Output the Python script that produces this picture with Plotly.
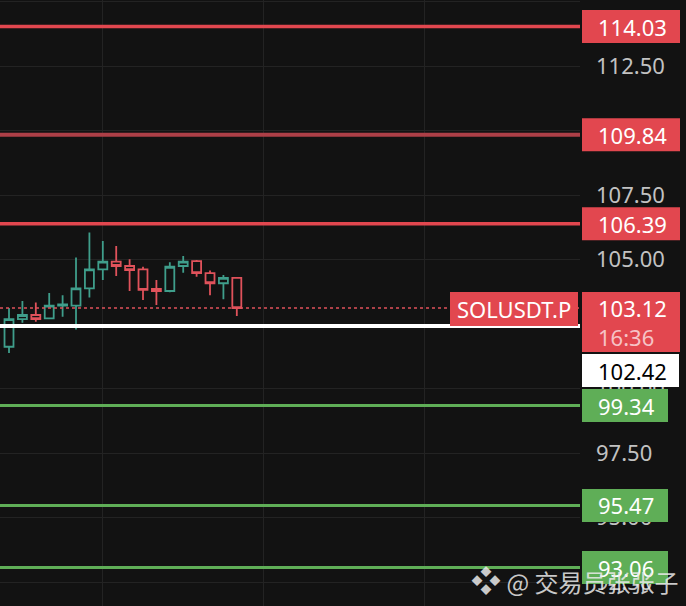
import plotly.graph_objects as go

# ---- data ----
candle_index = list(range(18))
opens  = [101.62, 102.69, 102.85, 102.72, 103.21, 103.21, 103.88, 104.62, 104.92, 104.75,
          104.62, 103.86, 103.78, 104.75, 104.94, 104.47, 104.08, 104.29]
highs  = [103.12, 103.39, 103.33, 103.70, 103.62, 105.08, 106.05, 105.72, 105.52, 105.01,
          104.72, 104.21, 104.89, 105.14, 104.98, 104.57, 104.40, 104.29]
lows   = [101.38, 102.55, 102.59, 102.69, 102.78, 102.29, 103.53, 104.21, 104.36, 103.78,
          103.43, 103.24, 103.73, 104.49, 104.33, 103.62, 103.46, 102.81]
closes = [102.69, 102.85, 102.69, 103.21, 103.26, 103.88, 104.62, 104.92, 104.75, 104.59,
          103.82, 103.78, 104.72, 104.92, 104.47, 104.08, 104.29, 103.12]

resistance_levels = [114.03, 109.84, 106.39]
support_levels = [99.34, 95.47, 93.06]
entry_level = 102.42
last_price = 103.12
countdown = "16:36"
symbol = "SOLUSDT.P"
watermark_logo = "❖"
watermark_text = "@ 交易员张张子"

# ---- styles ----
BG = "#121212"
GRID = "#232323"
UP = "#3f9e8b"
DOWN = "#e0525b"
RED = "#e2474f"
RED_DARK = "#ad3f47"
GREEN = "#5fae57"
resistance_colors = [RED, RED_DARK, RED]
resistance_widths = [3.5, 4, 3.5]
FONT = "Noto Sans"

fig = go.Figure()
fig.add_trace(go.Candlestick(
    x=candle_index, open=opens, high=highs, low=lows, close=closes,
    increasing=dict(line=dict(color=UP, width=1.8), fillcolor=BG),
    decreasing=dict(line=dict(color=DOWN, width=1.8), fillcolor=BG),
    whiskerwidth=0, hoverinfo="skip",
))

shapes = []
annotations = []

def hline(v, color, width, dash="solid"):
    shapes.append(dict(type="line", xref="paper", x0=0, x1=1, yref="y", y0=v, y1=v,
                       line=dict(color=color, width=width, dash=dash), layer="above"))

def box(v, color, x0, x1, y0, y1):
    shapes.append(dict(type="rect", xref="paper", xsizemode="pixel", xanchor=1, x0=x0, x1=x1,
                       yref="y", ysizemode="pixel", yanchor=v, y0=y0, y1=y1,
                       fillcolor=color, line=dict(width=0), layer="above"))

def label(v, text, color="white", yshift=0, xshift=17, xanchor="left"):
    annotations.append(dict(xref="paper", x=1, xanchor=xanchor, xshift=xshift,
                            yref="y", y=v, yanchor="middle", yshift=yshift,
                            text=text, showarrow=False, borderpad=0,
                            font=dict(family=FONT, size=22, color=color)))

for v, c, w in zip(resistance_levels, resistance_colors, resistance_widths):
    hline(v, c, w)
for v in support_levels:
    hline(v, GREEN, 3)
hline(last_price, DOWN, 1.5, "dot")
hline(entry_level, "white", 4)

for v in resistance_levels:
    box(v, RED, 2, 100, -16.5, 16.5)
    label(v, f"{v:.2f}")
for v in support_levels:
    box(v, GREEN, 2, 88, -16.5, 16.5)
    label(v, f"{v:.2f}")

# last price + countdown
box(last_price, RED, 2, 100, -44, 16)
label(last_price, f"{last_price:.2f}")
label(last_price, countdown, color="#f6c3c6", yshift=-29)
# symbol tag
box(last_price, RED, -130, -2, -18, 16)
label(last_price, symbol, xanchor="center", xshift=-66, yshift=-1)
# entry label
box(entry_level, "white", 2, 99, -61, -28)
label(entry_level, f"{entry_level:.2f}", color="black", yshift=-44.5)

annotations.append(dict(xref="paper", x=1, xanchor="right", xshift=100,
                        yref="paper", y=0.045, yanchor="middle",
                        text=f'<span style="font-size:30px">{watermark_logo}</span> {watermark_text}',
                        showarrow=False,
                        font=dict(family="Noto Sans CJK SC", size=24, color="rgba(235,235,235,0.85)")))

fig.update_layout(
    width=686, height=606,
    margin=dict(l=0, r=106, t=0, b=0),
    paper_bgcolor=BG, plot_bgcolor=BG,
    showlegend=False,
    boxgap=0.33, boxgroupgap=0.0,
    shapes=shapes, annotations=annotations,
    xaxis=dict(range=[-0.672, 42.61], showticklabels=False, tick0=7, dtick=12,
               showgrid=True, gridcolor=GRID, gridwidth=1, zeroline=False,
               showline=False, rangeslider=dict(visible=False), ticks=""),
    yaxis=dict(side="right", range=[91.57, 115.06], tick0=0, dtick=2.5, tickformat=".2f",
               showgrid=True, gridcolor=GRID, gridwidth=1, zeroline=False, showline=False,
               ticks="", ticklabelstandoff=15,
               tickfont=dict(family=FONT, size=22, color="#c2c2c2")),
)

fig.write_html("out.html", config={"displayModeBar": False},
               post_script="document.body.style.margin='0';document.body.style.overflow='hidden';")
